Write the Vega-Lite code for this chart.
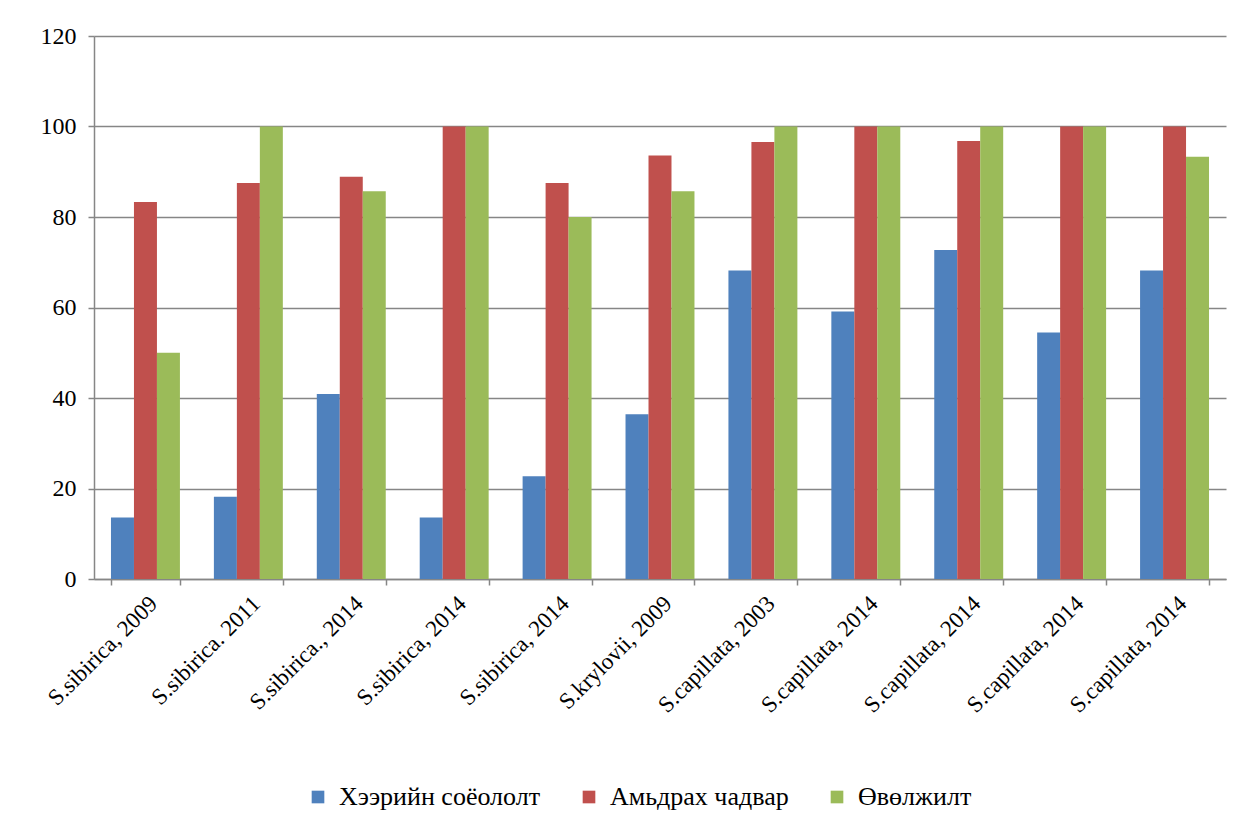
{
  "$schema": "https://vega.github.io/schema/vega-lite/v6.json",
  "width": 1132,
  "height": 543,
  "autosize": "none",
  "padding": {"left": 94, "top": 36, "right": 28, "bottom": 251},
  "background": "white",
  "data": {
    "values": [
      {"cat": "S.sibirica, 2009", "series": "Хээрийн соёололт", "value": 13.6},
      {"cat": "S.sibirica, 2009", "series": "Амьдрах чадвар", "value": 83.3},
      {"cat": "S.sibirica, 2009", "series": "Өвөлжилт", "value": 50},
      {"cat": "S.sibirica. 2011", "series": "Хээрийн соёололт", "value": 18.2},
      {"cat": "S.sibirica. 2011", "series": "Амьдрах чадвар", "value": 87.5},
      {"cat": "S.sibirica. 2011", "series": "Өвөлжилт", "value": 100},
      {"cat": "S.sibirica., 2014", "series": "Хээрийн соёололт", "value": 40.9},
      {"cat": "S.sibirica., 2014", "series": "Амьдрах чадвар", "value": 88.9},
      {"cat": "S.sibirica., 2014", "series": "Өвөлжилт", "value": 85.7},
      {"cat": "S.sibirica, 2014", "series": "Хээрийн соёололт", "value": 13.6},
      {"cat": "S.sibirica, 2014", "series": "Амьдрах чадвар", "value": 100},
      {"cat": "S.sibirica, 2014", "series": "Өвөлжилт", "value": 100},
      {"cat": "S.sibirica, 2014 ", "series": "Хээрийн соёололт", "value": 22.7},
      {"cat": "S.sibirica, 2014 ", "series": "Амьдрах чадвар", "value": 87.5},
      {"cat": "S.sibirica, 2014 ", "series": "Өвөлжилт", "value": 80},
      {"cat": "S.krylovii, 2009", "series": "Хээрийн соёололт", "value": 36.4},
      {"cat": "S.krylovii, 2009", "series": "Амьдрах чадвар", "value": 93.6},
      {"cat": "S.krylovii, 2009", "series": "Өвөлжилт", "value": 85.7},
      {"cat": "S.capillata, 2003", "series": "Хээрийн соёололт", "value": 68.2},
      {"cat": "S.capillata, 2003", "series": "Амьдрах чадвар", "value": 96.6},
      {"cat": "S.capillata, 2003", "series": "Өвөлжилт", "value": 100},
      {"cat": "S.capillata, 2014", "series": "Хээрийн соёололт", "value": 59.1},
      {"cat": "S.capillata, 2014", "series": "Амьдрах чадвар", "value": 100},
      {"cat": "S.capillata, 2014", "series": "Өвөлжилт", "value": 100},
      {"cat": "S.capillata, 2014 ", "series": "Хээрийн соёололт", "value": 72.7},
      {"cat": "S.capillata, 2014 ", "series": "Амьдрах чадвар", "value": 96.8},
      {"cat": "S.capillata, 2014 ", "series": "Өвөлжилт", "value": 100},
      {"cat": "S.capillata, 2014  ", "series": "Хээрийн соёололт", "value": 54.5},
      {"cat": "S.capillata, 2014  ", "series": "Амьдрах чадвар", "value": 100},
      {"cat": "S.capillata, 2014  ", "series": "Өвөлжилт", "value": 100},
      {"cat": "S.capillata, 2014   ", "series": "Хээрийн соёололт", "value": 68.2},
      {"cat": "S.capillata, 2014   ", "series": "Амьдрах чадвар", "value": 100},
      {"cat": "S.capillata, 2014   ", "series": "Өвөлжилт", "value": 93.3}
    ]
  },
  "mark": {"type": "bar"},
  "encoding": {
    "x": {
      "field": "cat",
      "type": "nominal",
      "sort": null,
      "scale": {"paddingInner": 0.33, "paddingOuter": 0.165},
      "axis": {
        "title": null,
        "labelExpr": "trim(datum.label)",
        "labelAngle": -45,
        "labelAlign": "right",
        "labelBaseline": "top",
        "labelFont": "Liberation Serif, Times New Roman, serif",
        "labelFontSize": 23,
        "labelColor": "black",
        "labelPadding": 7,
        "labelLimit": 400,
        "tickBand": "extent",
        "tickColor": "#868686",
        "tickSize": 6,
        "tickWidth": 1.5,
        "domainColor": "#868686",
        "domainWidth": 1.5,
        "grid": false
      }
    },
    "xOffset": {"field": "series", "type": "nominal", "sort": ["Хээрийн соёололт", "Амьдрах чадвар", "Өвөлжилт"], "scale": {"paddingInner": 0, "paddingOuter": 0}},
    "y": {
      "field": "value",
      "type": "quantitative",
      "scale": {"domain": [0, 120]},
      "axis": {
        "title": null,
        "values": [0, 20, 40, 60, 80, 100, 120],
        "labelFont": "Liberation Serif, Times New Roman, serif",
        "labelFontSize": 24,
        "labelColor": "black",
        "labelPadding": 12,
        "tickColor": "#868686",
        "tickSize": 6,
        "tickWidth": 1.5,
        "domainColor": "#868686",
        "domainWidth": 1.5,
        "gridColor": "#868686",
        "gridWidth": 1.5
      }
    },
    "color": {
      "field": "series",
      "type": "nominal",
      "scale": {
        "domain": ["Хээрийн соёололт", "Амьдрах чадвар", "Өвөлжилт"],
        "range": ["#4F81BD", "#C0504D", "#9BBB59"]
      },
      "legend": {
        "title": null,
        "orient": "none",
        "direction": "horizontal",
        "legendX": 211,
        "legendY": 748,
        "symbolType": "square",
        "symbolSize": 160,
        "symbolStrokeWidth": 0,
        "labelFont": "Liberation Serif, Times New Roman, serif",
        "labelFontSize": 26,
        "labelColor": "black",
        "labelOffset": 8,
        "columnPadding": 35,
        "labelLimit": 400
      }
    }
  },
  "config": {
    "view": {"stroke": null},
    "font": "Liberation Serif, Times New Roman, serif"
  }
}
